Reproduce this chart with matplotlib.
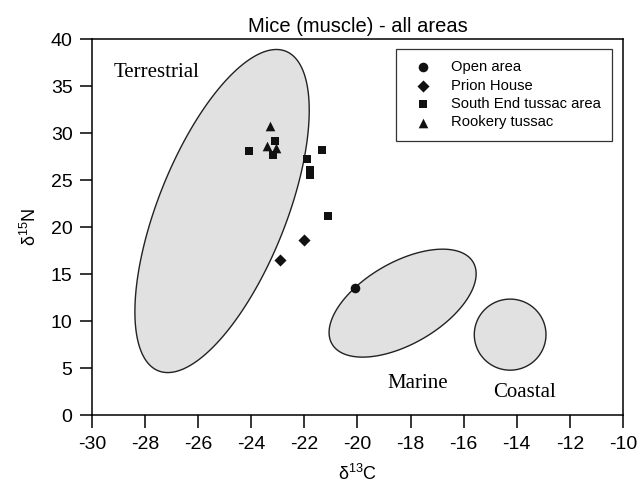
import numpy as np
import matplotlib
matplotlib.use("Agg")
import matplotlib.pyplot as plt
from matplotlib.patches import Polygon

plt.rcParams['font.family'] = ['Liberation Sans', 'DejaVu Sans']
plt.rcParams['mathtext.fontset'] = 'custom'
plt.rcParams['mathtext.rm'] = 'Liberation Sans'
plt.rcParams['axes.unicode_minus'] = False

# ---------------- DATA ----------------
open_x = [-20.1]
open_y = [13.5]

prion_x = [-22.0, -22.9]
prion_y = [18.6, 16.5]

south_x = [-24.1, -23.1, -23.2, -21.9, -21.35, -21.8, -21.8, -21.1]
south_y = [28.1, 29.1, 27.7, 27.2, 28.2, 26.1, 25.5, 21.2]

rookery_x = [-23.3, -23.4, -23.05]
rookery_y = [30.7, 28.6, 28.4]

# source regions: centre, first axis vector, second axis vector (data units)
regions = {
    "Terrestrial": ((-25.1, 21.7), (2.40, 17.0), (-2.24, 2.52)),
    "Marine": ((-18.3, 11.9), (2.66, 4.34), (-0.77, 3.76)),
    "Coastal": ((-14.25, 8.55), (1.35, 0.0), (0.0, 3.78)),
}
region_labels = {
    "Terrestrial": (-29.2, 36.4, "left"),
    "Marine": (-17.75, 3.4, "center"),
    "Coastal": (-13.7, 2.4, "center"),
}

# ---------------- PLOT ----------------
fig = plt.figure(figsize=(6.4, 4.92), dpi=100)
ax = fig.add_axes([0.1437, 0.1565, 0.8297, 0.7642])

t = np.linspace(0, 2 * np.pi, 400)
for name, (c, u, v) in regions.items():
    px = c[0] + u[0] * np.cos(t) + v[0] * np.sin(t)
    py = c[1] + u[1] * np.cos(t) + v[1] * np.sin(t)
    ax.add_patch(Polygon(np.column_stack([px, py]), closed=True,
                         facecolor="#e1e1e1", edgecolor="#222222",
                         linewidth=1.0, zorder=1))
    lx, ly, ha = region_labels[name]
    ax.text(lx, ly, name, ha=ha, va="center", fontsize=15,
            family=["Liberation Serif", "DejaVu Serif"], zorder=2)

ax.scatter(open_x, open_y, marker="o", s=48, color="#111111",
           label="Open area", zorder=3, linewidths=0)
ax.scatter(prion_x, prion_y, marker="D", s=38, color="#111111",
           label="Prion House", zorder=3, linewidths=0)
ax.scatter(south_x, south_y, marker="s", s=40, color="#111111",
           label="South End tussac area", zorder=3, linewidths=0)
ax.scatter(rookery_x, rookery_y, marker="^", s=48, color="#111111",
           label="Rookery tussac", zorder=3, linewidths=0)

ax.set_xlim(-30, -10)
ax.set_ylim(0, 40)
ax.set_xticks(np.arange(-30, -9, 2))
ax.set_yticks(np.arange(0, 41, 5))
ax.tick_params(direction="out", length=9, width=1.1, labelsize=14)
ax.tick_params(axis="x", pad=6)
ax.tick_params(axis="y", pad=5)
for s in ax.spines.values():
    s.set_linewidth(1.1)

ax.set_title("Mice (muscle) - all areas", fontsize=14.5, pad=5)
ax.set_xlabel("δ$^{13}$C", fontsize=13, labelpad=8)
ax.set_ylabel("δ$^{15}$N", fontsize=13, labelpad=8)

leg = ax.legend(loc="upper right", bbox_to_anchor=(0.979, 0.973),
                borderaxespad=0, fontsize=10.6, frameon=True, fancybox=False,
                edgecolor="black", handletextpad=0.8, labelspacing=0.3,
                borderpad=0.75, scatterpoints=1, handlelength=2.2)
leg.get_frame().set_linewidth(0.9)

fig.savefig("out.png", dpi=100)
